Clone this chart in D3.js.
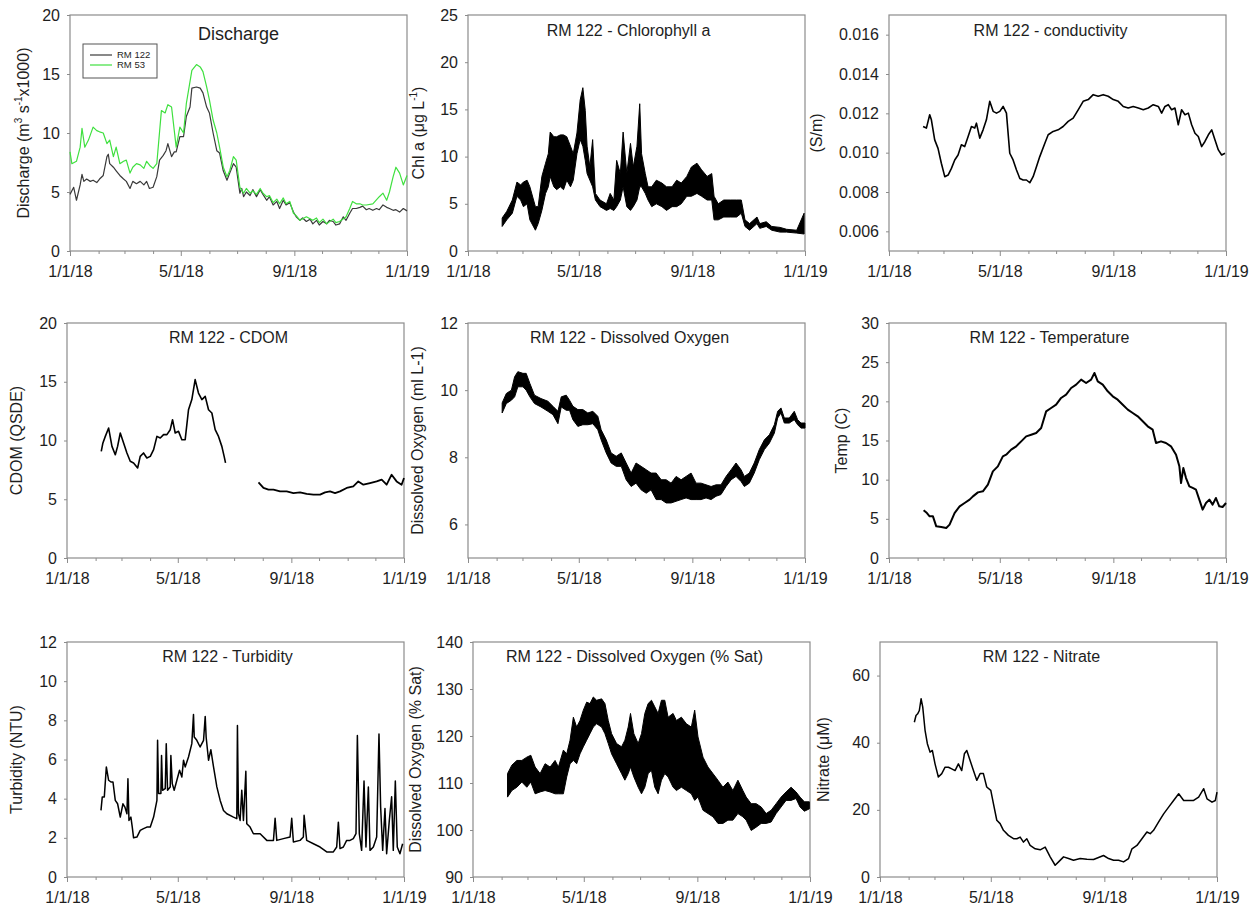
<!DOCTYPE html>
<html>
<head>
<meta charset="utf-8">
<script src="https://cdn.jsdelivr.net/npm/d3@7"></script>
<style>
  body { margin: 0; background: #fff; }
  text { font-family: "Liberation Sans", Arial, sans-serif; fill: #1e1e1e; }
</style>
</head>
<body>
<svg id="fig" width="1253" height="907"></svg>
<script>
// ---- Data: day offsets from 1 Jan 2018, values ----
const dischargeRM122 = [[0,4.8],[4,5.4],[7,4.3],[11,5.6],[13,6.5],[15,5.9],[18,6.1],[22,5.9],[25,6.0],[29,5.8],[32,6.1],[36,6.4],[40,8.0],[41.5,8.2],[43,7.4],[47,7.1],[50,6.8],[54,6.4],[58,6.1],[61,5.9],[65,5.3],[68,5.9],[72,5.7],[76,5.9],[80,5.6],[83,5.9],[86,5.3],[90,5.4],[94,6.3],[97,7.7],[101,8.1],[104,8.5],[106,9.1],[110,8.0],[113,8.4],[115,8.4],[119,9.7],[123,9.7],[126,11.4],[130,12.2],[132,13.8],[137,13.9],[141,13.8],[144,13.4],[148,12.2],[151,11.7],[155,10.0],[159,8.5],[162,8.3],[166,6.8],[170,6.0],[173,6.6],[177,7.4],[180,7.1],[184,4.9],[186,5.3],[188,4.6],[191,5.0],[195,4.7],[198,5.2],[202,4.6],[206,5.2],[209,4.8],[213,4.3],[216,4.6],[220,3.9],[224,4.2],[227,3.6],[231,4.3],[234,3.9],[238,4.1],[242,3.3],[245,2.9],[249,2.6],[252,2.8],[256,2.5],[260,2.7],[263,2.3],[267,2.6],[270,2.2],[274,2.5],[278,2.3],[281,2.6],[285,2.5],[288,2.2],[292,2.3],[296,2.9],[299,2.6],[303,3.2],[306,3.6],[310,3.6],[314,3.7],[317,3.8],[321,3.5],[324,3.6],[328,3.45],[332,3.6],[335,3.5],[339,3.9],[343,3.7],[346,3.6],[350,3.45],[353,3.5],[357,3.3],[361,3.6],[365,3.4]];

const dischargeRM53 = [[0,8.4],[2,7.4],[7,7.6],[11,8.8],[13,10.4],[16,8.8],[20,9.4],[25,10.5],[29,10.2],[32,10.1],[36,10.0],[40,9.1],[43,9.4],[47,8.0],[50,8.8],[54,7.4],[58,7.6],[61,7.7],[65,6.6],[68,7.1],[72,7.4],[76,7.3],[80,7.0],[83,7.6],[87,7.2],[90,7.0],[94,7.4],[99,11.9],[103,11.7],[106,12.4],[110,12.2],[115,8.8],[119,10.5],[123,10.0],[126,12.5],[132,15.3],[137,15.8],[141,15.6],[144,15.2],[148,13.9],[151,12.8],[155,11.1],[159,10.0],[162,8.8],[166,7.1],[170,6.3],[173,6.8],[177,8.0],[180,7.7],[184,5.4],[188,4.9],[191,5.3],[195,4.9],[198,5.1],[202,4.8],[206,5.3],[209,4.9],[213,4.6],[216,4.7],[220,4.1],[224,4.4],[227,4.0],[231,4.5],[234,4.0],[238,4.2],[242,3.2],[245,3.0],[249,2.6],[256,2.9],[263,2.6],[267,2.8],[270,2.4],[274,2.7],[278,2.3],[285,2.7],[288,2.4],[292,2.5],[299,2.9],[303,3.6],[306,4.2],[310,4.0],[314,4.0],[317,3.9],[321,3.9],[328,4.0],[335,4.6],[339,4.9],[343,4.3],[346,5.0],[350,6.3],[353,7.1],[357,6.6],[361,5.6],[365,6.4]];

// [day, low, high] envelope of the high-frequency record
const chlorophyll = [[37,2.6,3.5],[42,3.3,4.2],[48,4.0,5.4],[53,5.8,7.3],[57,5.4,7.0],[60,4.7,7.3],[64,5.0,7.5],[67,3.3,6.8],[73,2.2,4.7],[76,2.9,4.7],[80,4.3,7.9],[84,6.1,9.3],[87,6.8,10.3],[89,7.9,12.6],[93,6.8,12.1],[96,6.5,12.1],[100,6.8,12.3],[103.5,6.5,12.3],[107,7.5,12.1],[111,6.8,11.1],[114,7.5,10.3],[118,10.3,12.5],[121.5,11.8,16.0],[124.4,11.1,17.3],[127,9.6,14.9],[129,8.2,11.1],[132,7.5,8.9],[135,6.8,11.8],[138,5.4,6.1],[143,4.7,5.4],[150,4.3,5.0],[154,4.5,6.1],[158,4.3,5.4],[161,4.7,9.6],[165,5.4,8.2],[168,6.8,12.6],[172,4.7,8.2],[176,4.3,11.4],[179,4.7,8.9],[183,5.4,11.1],[186,6.8,15.6],[188,6.8,10.3],[192,6.1,8.2],[195,5.4,6.8],[199,4.7,6.8],[204,5.0,7.5],[210,4.7,7.2],[215,4.3,6.8],[221,4.7,6.8],[226,4.7,7.5],[231,5.0,7.2],[237,5.8,7.9],[242,5.8,8.9],[248,6.1,9.3],[253,5.8,8.6],[259,5.4,7.9],[264,5.4,8.2],[266.5,3.3,5.8],[271,3.3,5.0],[277,3.6,5.4],[284,3.6,5.4],[291,3.6,5.4],[296,4.0,5.4],[300,2.6,3.3],[305,2.2,2.9],[313,2.9,3.6],[316,2.4,2.9],[323,2.6,3.1],[329,2.2,2.6],[338,2.0,2.5],[345,2.0,2.3],[356,1.9,2.2],[364,1.8,4.0]];

const conductivity = [[36.9,0.01133],[40.5,0.01125],[44.1,0.01193],[45.9,0.01167],[49.5,0.01065],[53.1,0.01022],[56.7,0.00946],[60.4,0.00878],[64,0.00886],[67.6,0.0092],[71.2,0.00963],[74.8,0.00988],[78.4,0.0104],[82,0.01031],[85.7,0.01082],[89.3,0.01133],[92.9,0.01125],[94.7,0.0115],[98.3,0.01074],[101.9,0.01116],[105.5,0.01167],[109.1,0.01261],[112.8,0.0121],[116.4,0.01201],[120,0.0121],[123.6,0.01235],[127.2,0.01201],[130.8,0.00997],[134.4,0.00963],[138.1,0.00912],[141.7,0.00869],[145.3,0.00861],[148.9,0.00861],[152.5,0.00847],[156.1,0.00878],[159.7,0.00929],[163.3,0.0098],[168.8,0.01048],[172.4,0.01091],[177.8,0.01108],[183.2,0.01116],[188.6,0.01133],[194.1,0.01159],[199.5,0.01176],[204.9,0.01218],[210.3,0.01261],[215.8,0.0127],[221.2,0.01295],[226.6,0.01287],[232,0.01295],[237.4,0.01287],[242.9,0.0127],[248.3,0.01261],[253.7,0.01235],[259.1,0.01227],[264.5,0.01235],[270,0.01227],[275.4,0.01218],[280.8,0.01227],[286.2,0.01244],[291.7,0.01235],[295.3,0.01201],[298.9,0.01235],[302.5,0.01244],[306.1,0.01218],[309.7,0.01227],[313.3,0.01142],[316.9,0.01218],[320.6,0.01193],[324.2,0.01201],[327.8,0.01142],[331.4,0.01099],[335,0.01082],[338.6,0.01031],[342.2,0.01057],[345.9,0.01091],[349.5,0.01116],[353.1,0.01065],[356.7,0.01014],[360.3,0.00988],[363.9,0.00997]];

// CDOM record has a gap in early summer
const cdomSpring = [[37.1,9.08],[38.9,9.79],[41.5,10.35],[45.1,11.06],[48.7,9.5],[52.3,8.79],[54.8,9.5],[57.7,10.64],[61.3,9.79],[64.9,8.94],[68.5,8.23],[72.1,8.09],[76.5,7.66],[79.3,8.65],[82.9,8.94],[86.5,8.51],[90.2,8.65],[93.8,9.22],[97.4,10.35],[101,10.21],[104.6,10.5],[108.2,10.5],[111.8,10.92],[114.3,11.77],[117.2,10.64],[120.8,10.78],[124.4,10.07],[128,10.07],[131.6,12.62],[135.2,13.48],[138.8,15.18],[142.4,14.04],[146.1,13.48],[149.7,13.76],[153.3,12.62],[156.9,12.34],[160.5,10.92],[164.1,10.35],[167.7,9.5],[170.2,8.65],[171.7,8.09]];
const cdomAutumn = [[207.4,6.44],[212.8,5.96],[218.2,5.82],[223.6,5.82],[230.8,5.67],[238,5.67],[245.2,5.53],[252.4,5.59],[259.6,5.45],[266.9,5.39],[274.1,5.39],[279.5,5.59],[284.9,5.67],[290.3,5.53],[295.7,5.67],[302.9,5.96],[310.1,6.1],[315.5,6.52],[321,6.24],[328.2,6.38],[335.4,6.52],[340.8,6.67],[346.2,6.24],[351.6,7.09],[357,6.52],[362.4,6.24],[365,6.81]];

const dissolvedOxygen = [[37,9.32,9.62],[41.5,9.6,9.9],[47,9.7,10.0],[50.5,9.8,10.4],[54,10.1,10.55],[59.5,10.1,10.5],[63,10.0,10.5],[67,9.8,10.2],[72,9.6,9.85],[79,9.5,9.75],[86.5,9.37,9.67],[92,9.27,9.52],[97.4,9.0,9.37],[101,9.5,9.8],[106.4,9.4,9.85],[110,9.4,9.7],[113.6,9.12,9.52],[119,8.92,9.42],[124.4,8.97,9.42],[129.8,8.97,9.32],[135.2,9.0,9.37],[140.6,8.82,9.22],[144.2,8.52,8.82],[149.7,8.13,8.52],[155,7.83,8.13],[160.5,7.73,8.03],[166,7.73,8.13],[171.3,7.33,7.83],[176.7,7.13,7.53],[182,7.23,7.83],[187.5,7.03,7.73],[193,6.93,7.63],[198.3,7.03,7.53],[203.8,6.74,7.53],[209.2,6.74,7.33],[214.6,6.64,7.33],[220,6.64,7.23],[225.4,6.69,7.43],[230.8,6.74,7.33],[236.2,6.79,7.43],[241.6,6.74,7.53],[247,6.74,7.23],[252.4,6.74,7.23],[257.8,6.79,7.18],[263.3,6.74,7.13],[268.7,6.84,7.18],[274,6.89,7.18],[279.5,7.13,7.43],[285,7.33,7.63],[290.3,7.43,7.83],[295.7,7.28,7.63],[299.3,7.13,7.43],[304.7,7.23,7.53],[310,7.53,7.83],[315.5,7.93,8.23],[321,8.23,8.52],[326.4,8.42,8.67],[331.8,8.72,8.97],[335.4,9.17,9.37],[339,9.32,9.47],[342.6,9.02,9.17],[348,9.02,9.17],[353.4,9.12,9.37],[357,8.97,9.12],[360.6,8.87,9.02],[365,8.87,9.02]];

const temperature = [[37.5,6.09],[41.1,5.74],[44,5.32],[47.6,5.32],[51.2,4.04],[56.6,3.96],[62,3.83],[65.6,4.26],[71,5.74],[76.5,6.6],[81.9,7.02],[87.3,7.45],[90.9,7.87],[96.3,8.38],[101.7,8.51],[107.1,9.36],[112.5,11.06],[117.9,11.7],[123.3,12.98],[126.9,13.19],[132.3,13.83],[137.8,14.26],[143.2,14.89],[148.6,15.53],[154,15.74],[159.4,15.96],[164.8,16.6],[170.2,18.72],[175.6,19.15],[181,19.57],[186.4,20.43],[191.8,20.85],[197.3,21.7],[202.7,22.13],[208.1,22.77],[213.5,22.34],[218.9,22.77],[222.5,23.62],[226.1,22.55],[231.5,22.13],[236.9,21.28],[242.3,20.64],[247.7,20.21],[253.2,19.57],[258.6,18.94],[264,18.51],[269.4,18.09],[274.8,17.45],[280.2,16.81],[285.6,16.38],[289.2,14.68],[294.6,14.89],[300,14.68],[305.4,14.26],[310.9,13.19],[314.5,11.7],[316.3,9.57],[318.8,11.49],[321.7,10.21],[325.3,9.15],[328.9,8.94],[332.5,8.72],[336.1,7.45],[339.7,6.17],[343.3,7.02],[347,7.45],[350.5,6.81],[354.1,7.66],[357.7,6.6],[361.3,6.51],[365,7.02]];

const turbidity = [[36.8,3.4],[38.2,4.09],[40.4,4.09],[42.6,5.62],[45.1,4.94],[47.6,4.85],[49.8,4.85],[52.3,3.91],[54.8,3.74],[57.7,3.06],[60.6,3.74],[62.7,3.57],[64.9,3.23],[66,5.02],[67.1,2.89],[69.2,3.06],[70.7,2.55],[72.1,2.0],[75.7,2.04],[79.3,2.38],[82.9,2.47],[86.5,2.55],[90.2,2.55],[93.8,3.06],[97.4,3.91],[98.1,6.98],[99.2,4.26],[101.7,4.26],[102.4,6.2],[103.5,4.43],[106.4,4.51],[107.5,6.8],[108.9,4.43],[111.8,4.6],[112.5,6.2],[114,4.77],[116.1,4.43],[119,4.94],[121.9,5.45],[124.4,5.11],[126.2,5.96],[128,5.62],[131.6,6.13],[135.2,6.81],[137,8.3],[137.8,7.15],[140.6,6.98],[144.2,6.64],[147.9,6.98],[149.7,8.2],[150.7,7.15],[153.3,5.96],[155.8,6.5],[158.7,5.62],[162.3,4.6],[165.9,3.91],[169.5,3.4],[173.1,3.23],[180.3,3.06],[183.9,2.98],[184.6,7.74],[185.7,3.23],[187.5,2.89],[189.3,4.43],[191.1,2.89],[193.7,5.4],[194.7,2.72],[198.3,2.55],[201.9,2.21],[209.2,2.21],[216.4,1.87],[223.6,1.87],[225.4,3.0],[227.2,1.87],[234.4,1.96],[241.6,2.04],[243.4,3.0],[245.2,1.79],[252.4,1.87],[256,2.04],[256.8,3.15],[259.6,1.87],[266.9,1.7],[274.1,1.53],[281.3,1.28],[288.5,1.28],[292.1,1.53],[293.9,2.8],[295.7,1.45],[299.3,1.53],[302.9,1.87],[306.5,1.87],[310.1,1.96],[313,2.21],[314.5,7.23],[316.6,2.21],[319.1,1.36],[321.7,4.9],[323.8,1.53],[326.4,4.6],[328.2,1.36],[331.8,1.53],[335.4,2.04],[337.9,7.3],[339.7,3.57],[341.9,1.36],[344.4,3.5],[346.2,1.19],[349.1,2.89],[351.6,4.1],[353.4,1.36],[355.6,4.9],[357.7,1.53],[360.6,1.19],[363.5,1.7]];

const oxygenSaturation = [[37.4,107.0,112.0],[42.1,108.4,113.8],[47.5,109.1,114.8],[52.9,110.2,114.8],[58.3,109.1,115.5],[62.6,110.2,115.9],[67.3,107.7,113.4],[72.7,108.1,112.0],[78.1,108.4,114.1],[83.5,108.1,113.4],[88.9,107.7,114.8],[92.5,107.7,113.4],[97.9,107.7,117.0],[101.5,111.3,116.2],[105.1,114.1,119.1],[108.7,114.8,124.0],[112.3,114.1,121.9],[115.9,116.2,123.3],[119.5,117.7,125.5],[123.1,119.1,127.2],[126.7,120.5,126.9],[130.3,121.9,128.3],[133.9,122.6,127.6],[139.3,121.9,127.9],[142.9,120.5,126.9],[146.5,118.4,123.3],[150.1,116.2,120.5],[155.5,114.1,118.4],[160.9,112.0,117.7],[164.5,110.6,119.1],[168.1,112.0,121.9],[170.6,113.4,124.8],[174.2,111.3,120.5],[178.9,109.1,118.4],[182.5,107.7,120.5],[186.1,109.1,124.8],[189.7,112.0,126.9],[193.3,112.7,127.6],[196.9,109.1,126.2],[200.5,107.7,124.8],[204.1,110.6,127.6],[207.7,112.0,127.6],[211.3,111.3,124.0],[216.7,109.1,124.8],[220.3,108.4,123.3],[225.7,109.1,124.0],[231.1,108.4,122.6],[236.5,107.7,121.9],[240.1,106.3,125.5],[243.7,107.0,119.8],[249.1,104.2,115.5],[254.5,103.5,113.4],[259.9,102.8,112.0],[265.3,101.4,110.6],[270.7,101.4,109.1],[276.1,102.1,110.2],[281.5,102.1,108.4],[286.9,103.5,110.6],[292.3,102.8,108.4],[295.9,102.1,107.0],[301.3,99.9,105.6],[306.7,100.6,105.6],[312.1,101.4,104.9],[317.5,101.4,103.5],[322.9,101.7,104.2],[328.3,103.5,105.6],[333.7,104.9,107.0],[339.1,106.3,108.1],[344.5,106.3,109.1],[349.9,106.7,108.1],[354.2,104.9,107.0],[358.9,104.0,106.0],[364.3,104.5,106.0]];

const nitrate = [[37.2,46.1],[39,48.1],[40.8,48.6],[42.6,49.6],[44.5,53.1],[46.3,50.6],[48.8,43.7],[51.3,39.7],[54.2,37.2],[56.7,37.7],[59.6,33.7],[63.2,29.8],[66.9,30.8],[70.5,32.7],[74.1,32.7],[77.7,32.2],[81.3,31.7],[84.9,33.7],[88.5,31.7],[91.4,36.7],[94,37.7],[97.6,34.7],[101.2,31.7],[104.8,28.8],[108.4,30.8],[112,30.8],[115.6,26.8],[120,25.8],[122.9,21.8],[126.5,16.9],[130.1,15.9],[133.7,13.9],[139.1,12.4],[144.6,11.4],[148.2,11.4],[151.8,11.9],[155.4,10.4],[159,11.4],[162.6,9.4],[168.1,8.4],[173.5,8.1],[178.9,8.9],[184.3,6.0],[189.7,3.5],[193.4,4.5],[198.8,6.0],[204.2,5.5],[209.6,5.0],[216.8,5.5],[224.1,5.3],[231.3,5.2],[236.7,5.8],[242.1,6.4],[247.6,5.5],[253,5.0],[258.4,5.0],[263.8,4.5],[269.2,5.5],[272.9,8.4],[278.3,9.4],[283.7,11.4],[289.1,13.4],[292.7,12.9],[296.3,13.9],[301.8,16.4],[307.2,18.8],[312.6,20.8],[318,22.8],[323.5,24.8],[328.9,22.8],[334.3,22.8],[339.7,22.8],[345.1,23.8],[350.6,26.3],[354.2,23.3],[359.6,22.3],[363.2,22.8],[365,25.3]];

// ---- Axis tick values ----
const ticksDischarge = [0, 5, 10, 15, 20];
const ticksChl = [0, 5, 10, 15, 20, 25];
const ticksCond = [0.006, 0.008, 0.010, 0.012, 0.014, 0.016];
const ticksCdom = [0, 5, 10, 15, 20];
const ticksDO = [6, 8, 10, 12];
const ticksTemp = [0, 5, 10, 15, 20, 25, 30];
const ticksTurb = [0, 2, 4, 6, 8, 10, 12];
const ticksSat = [90, 100, 110, 120, 130, 140];
const ticksNitrate = [0, 20, 40, 60];
const dateLabels = ["1/1/18", "5/1/18", "9/1/18", "1/1/19"];
const legendNames = ["RM 122", "RM 53"];

// ---- Drawing ----
const svg = d3.select("#fig");
const t0 = new Date(2018, 0, 1), t1 = new Date(2019, 0, 1);
const toDate = d => new Date(t0.getTime() + d * 864e5);
const monthTicks = d3.timeMonth.range(t0, d3.timeDay.offset(t1, 1));
const fmtDate = d3.timeFormat("%-m/%-d/%y");
const frameColor = "#8c8c8c";

function drawPanel(p) {
  const g = svg.append("g").attr("transform", `translate(${p.x},${p.y})`);
  const x = d3.scaleTime().domain([t0, t1]).range([0, p.w]);
  const y = d3.scaleLinear().domain(p.domain).range([p.h, 0]);

  // x axis: monthly ticks, labels every four months
  const xa = g.append("g").attr("transform", `translate(0,${p.h})`)
    .call(d3.axisBottom(x).tickValues(monthTicks).tickSizeOuter(0)
      .tickFormat(d => dateLabels.includes(fmtDate(d)) ? fmtDate(d) : ""));
  xa.selectAll(".tick line").attr("stroke", frameColor)
    .attr("y2", d => d.getMonth() % 4 === 0 ? 5 : 3);
  xa.selectAll(".tick text").attr("font-size", 16).attr("dy", "1.05em").attr("fill", "#1e1e1e");
  xa.select(".domain").remove();

  // y axis
  const ya = g.append("g")
    .call(d3.axisLeft(y).tickValues(p.ticks).tickSizeOuter(0).tickSize(3).tickPadding(7)
      .tickFormat(p.fmt || (d => d)));
  ya.selectAll(".tick line").attr("stroke", frameColor);
  ya.selectAll(".tick text").attr("font-size", 16).attr("fill", "#1e1e1e");
  ya.select(".domain").remove();

  // frame
  g.append("rect").attr("width", p.w).attr("height", p.h)
    .attr("fill", "none").attr("stroke", frameColor).attr("stroke-width", 1.2);

  // y axis title
  const yt = g.append("text")
    .attr("transform", `translate(${-p.labelOff},${p.h / 2}) rotate(-90)`)
    .attr("text-anchor", "middle").attr("dominant-baseline", "middle").attr("font-size", 16);
  p.label.forEach(part => {
    const ts = yt.append("tspan").text(part.t);
    if (part.sup) ts.attr("font-size", 10).attr("baseline-shift", "super");
  });

  // panel title
  g.append("text").attr("x", p.w / 2 + (p.titleDx || 0)).attr("y", p.titleY || 21)
    .attr("text-anchor", "middle").attr("font-size", p.titleSize || 16).text(p.title);

  const line = d3.line().x(d => x(toDate(d[0]))).y(d => y(d[1]));
  const area = d3.area().x(d => x(toDate(d[0]))).y0(d => y(d[1])).y1(d => y(d[2]));

  (p.lines || []).forEach(s => {
    g.append("path").datum(s.data).attr("d", line)
      .attr("fill", "none").attr("stroke", s.color || "#000")
      .attr("stroke-width", s.width || 1.3).attr("stroke-linejoin", "round");
  });
  (p.bands || []).forEach(s => {
    g.append("path").datum(s).attr("d", area)
      .attr("fill", "#000").attr("stroke", "#000").attr("stroke-width", 1).attr("stroke-linejoin", "round");
  });
  return { g, x, y };
}

const W = 337;
const panels = [
  { x: 70, y: 15, w: W, h: 236, domain: [0, 20], ticks: ticksDischarge, labelOff: 45,
    label: [{t: "Discharge (m"}, {t: "3", sup: true}, {t: " s"}, {t: "-1", sup: true}, {t: "x1000)"}],
    title: "Discharge", titleSize: 18, titleY: 25,
    lines: [{data: dischargeRM122, color: "#3a3a3a", width: 1.2}, {data: dischargeRM53, color: "#3fe03f", width: 1.2}] },
  { x: 468, y: 15, w: W, h: 236, domain: [0, 25], ticks: ticksChl, labelOff: 48,
    label: [{t: "Chl a (\u03bcg L"}, {t: "-1", sup: true}, {t: ")"}],
    title: "RM 122 - Chlorophyll a", titleDx: -8, bands: [chlorophyll] },
  { x: 889, y: 15, w: W, h: 236, domain: [0.005, 0.017], ticks: ticksCond, labelOff: 71,
    fmt: d3.format(".3f"), label: [{t: "(S/m)"}],
    title: "RM 122 - conductivity", titleDx: -7, lines: [{data: conductivity, width: 1.6}] },
  { x: 67, y: 323, w: W, h: 235, domain: [0, 20], ticks: ticksCdom, labelOff: 49,
    label: [{t: "CDOM (QSDE)"}], title: "RM 122 - CDOM", titleDx: -7, titleY: 20,
    lines: [{data: cdomSpring, width: 1.6}, {data: cdomAutumn, width: 1.8}] },
  { x: 468, y: 323, w: W, h: 235, domain: [5, 12], ticks: ticksDO, labelOff: 49,
    label: [{t: "Dissolved Oxygen (ml L-1)"}], title: "RM 122 - Dissolved Oxygen", titleDx: -7, titleY: 20,
    bands: [dissolvedOxygen] },
  { x: 889, y: 323, w: W, h: 235, domain: [0, 30], ticks: ticksTemp, labelOff: 46,
    label: [{t: "Temp (C)"}], title: "RM 122 - Temperature", titleDx: -8, titleY: 20,
    lines: [{data: temperature, width: 2}] },
  { x: 67, y: 642, w: W, h: 235, domain: [0, 12], ticks: ticksTurb, labelOff: 49,
    label: [{t: "Turbidity (NTU)"}], title: "RM 122 - Turbidity", titleDx: -8, titleY: 20,
    lines: [{data: turbidity, width: 1.5}] },
  { x: 473, y: 642, w: W, h: 235, domain: [90, 140], ticks: ticksSat, labelOff: 56,
    label: [{t: "Dissolved Oxygen (% Sat)"}], title: "RM 122 - Dissolved Oxygen (% Sat)", titleDx: -7, titleY: 20,
    bands: [oxygenSaturation] },
  { x: 880, y: 642, w: W, h: 235, domain: [0, 70], ticks: ticksNitrate, labelOff: 55,
    label: [{t: "Nitrate (\u03bcM)"}], title: "RM 122 - Nitrate", titleDx: -7, titleY: 20,
    lines: [{data: nitrate, width: 1.5}] }
];

const drawn = panels.map(drawPanel);

// legend for the discharge panel
const lg = drawn[0].g.append("g").attr("transform", "translate(13,29)");
lg.append("rect").attr("width", 74).attr("height", 34)
  .attr("fill", "#fff").attr("stroke", "#555").attr("stroke-width", 1);
legendNames.forEach((name, i) => {
  const c = panels[0].lines[i].color;
  lg.append("line").attr("x1", 7).attr("x2", 29).attr("y1", 11 + i * 10).attr("y2", 11 + i * 10)
    .attr("stroke", c).attr("stroke-width", 1.2);
  lg.append("text").attr("x", 34).attr("y", 11 + i * 10).attr("dy", "0.35em")
    .attr("font-size", 9.5).text(name);
});
</script>
</body>
</html>
